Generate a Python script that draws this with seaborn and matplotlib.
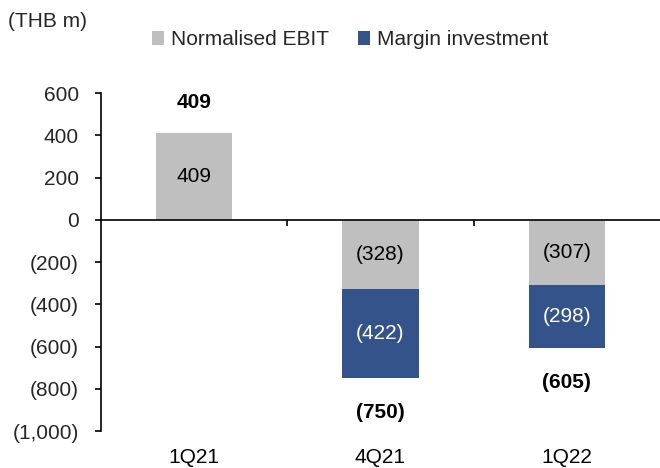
import matplotlib
matplotlib.use("Agg")
import matplotlib.pyplot as plt
import matplotlib.transforms as mtransforms
from matplotlib.patches import Patch
import seaborn as sns
import pandas as pd

quarters = ["1Q21", "4Q21", "1Q22"]
normalised_ebit = [409, -328, -307]
margin_investment = [0, -422, -298]
totals = [409, -750, -605]
y_ticks = [600, 400, 200, 0, -200, -400, -600, -800, -1000]

GREY = "#bfbfbf"
BLUE = "#34538a"
FS = 15

sns.set_theme(style="white")
plt.rcParams["font.family"] = ["Liberation Sans", "DejaVu Sans"]


def fmt(v):
    s = f"{abs(v):,.0f}"
    return f"({s})" if v < 0 else s


df = pd.DataFrame({
    "quarter": quarters,
    "ebit": normalised_ebit,
    "margin": margin_investment,
})

fig = plt.figure(figsize=(6.6, 4.68), dpi=100)
ax = fig.add_axes([0.153, 0.079, 0.847, 0.722])

sns.barplot(data=df, x="quarter", y="ebit", color=GREY, width=0.41,
            saturation=1, ax=ax, edgecolor="none")
sns.barplot(data=df, x="quarter", y="margin", color=BLUE, width=0.41,
            saturation=1, ax=ax, edgecolor="none", bottom=df["ebit"])

ax.set_ylim(-1000, 600)
ax.set_xlim(-0.5, 2.5)
ax.set_yticks(y_ticks)
ax.set_yticklabels([fmt(v) for v in y_ticks], fontsize=FS)
ax.set_xlabel("")
ax.set_ylabel("")

for s in ("top", "right"):
    ax.spines[s].set_visible(False)
ax.spines["bottom"].set_position(("data", 0))
for s in ("left", "bottom"):
    ax.spines[s].set_color("black")
    ax.spines[s].set_linewidth(1.2)

# separators between categories on the zero line
ax.set_xticks([0.5, 1.5])
ax.set_xticklabels([])
ax.tick_params(axis="x", bottom=True, direction="out", length=4, width=1.2, color="black")
ax.tick_params(axis="y", left=True, direction="out", length=4, width=1.2, color="black", pad=12)

# category labels below the plotting area
trans = mtransforms.blended_transform_factory(ax.transData, ax.transAxes)
for i, q in enumerate(quarters):
    ax.text(i, -0.078, q, transform=trans, ha="center", va="center",
            fontsize=FS, color="black")

# segment labels
for i in range(len(quarters)):
    e = normalised_ebit[i]
    m = margin_investment[i]
    if e != 0:
        ax.text(i, e / 2, fmt(e), ha="center", va="center", fontsize=FS, color="black")
    if m != 0:
        ax.text(i, e + m / 2, fmt(m), ha="center", va="center", fontsize=FS, color="white")

# totals
for i, t in enumerate(totals):
    off = 22 if t > 0 else -25
    ax.annotate(fmt(t), xy=(i, t), xytext=(0, off), textcoords="offset points",
                ha="center", va="center", fontsize=FS, fontweight="bold", color="black")

fig.text(0.012, 0.953, "(THB m)", ha="left", va="center", fontsize=FS)

handles = [Patch(facecolor=GREY, edgecolor="none", label="Normalised EBIT"),
           Patch(facecolor=BLUE, edgecolor="none", label="Margin investment")]
fig.legend(handles=handles, loc="center", bbox_to_anchor=(0.53, 0.915), ncol=2,
           frameon=False, fontsize=FS, handlelength=0.6, handleheight=0.6,
           handletextpad=0.3, columnspacing=1.4)

fig.savefig("out.png", dpi=100)
